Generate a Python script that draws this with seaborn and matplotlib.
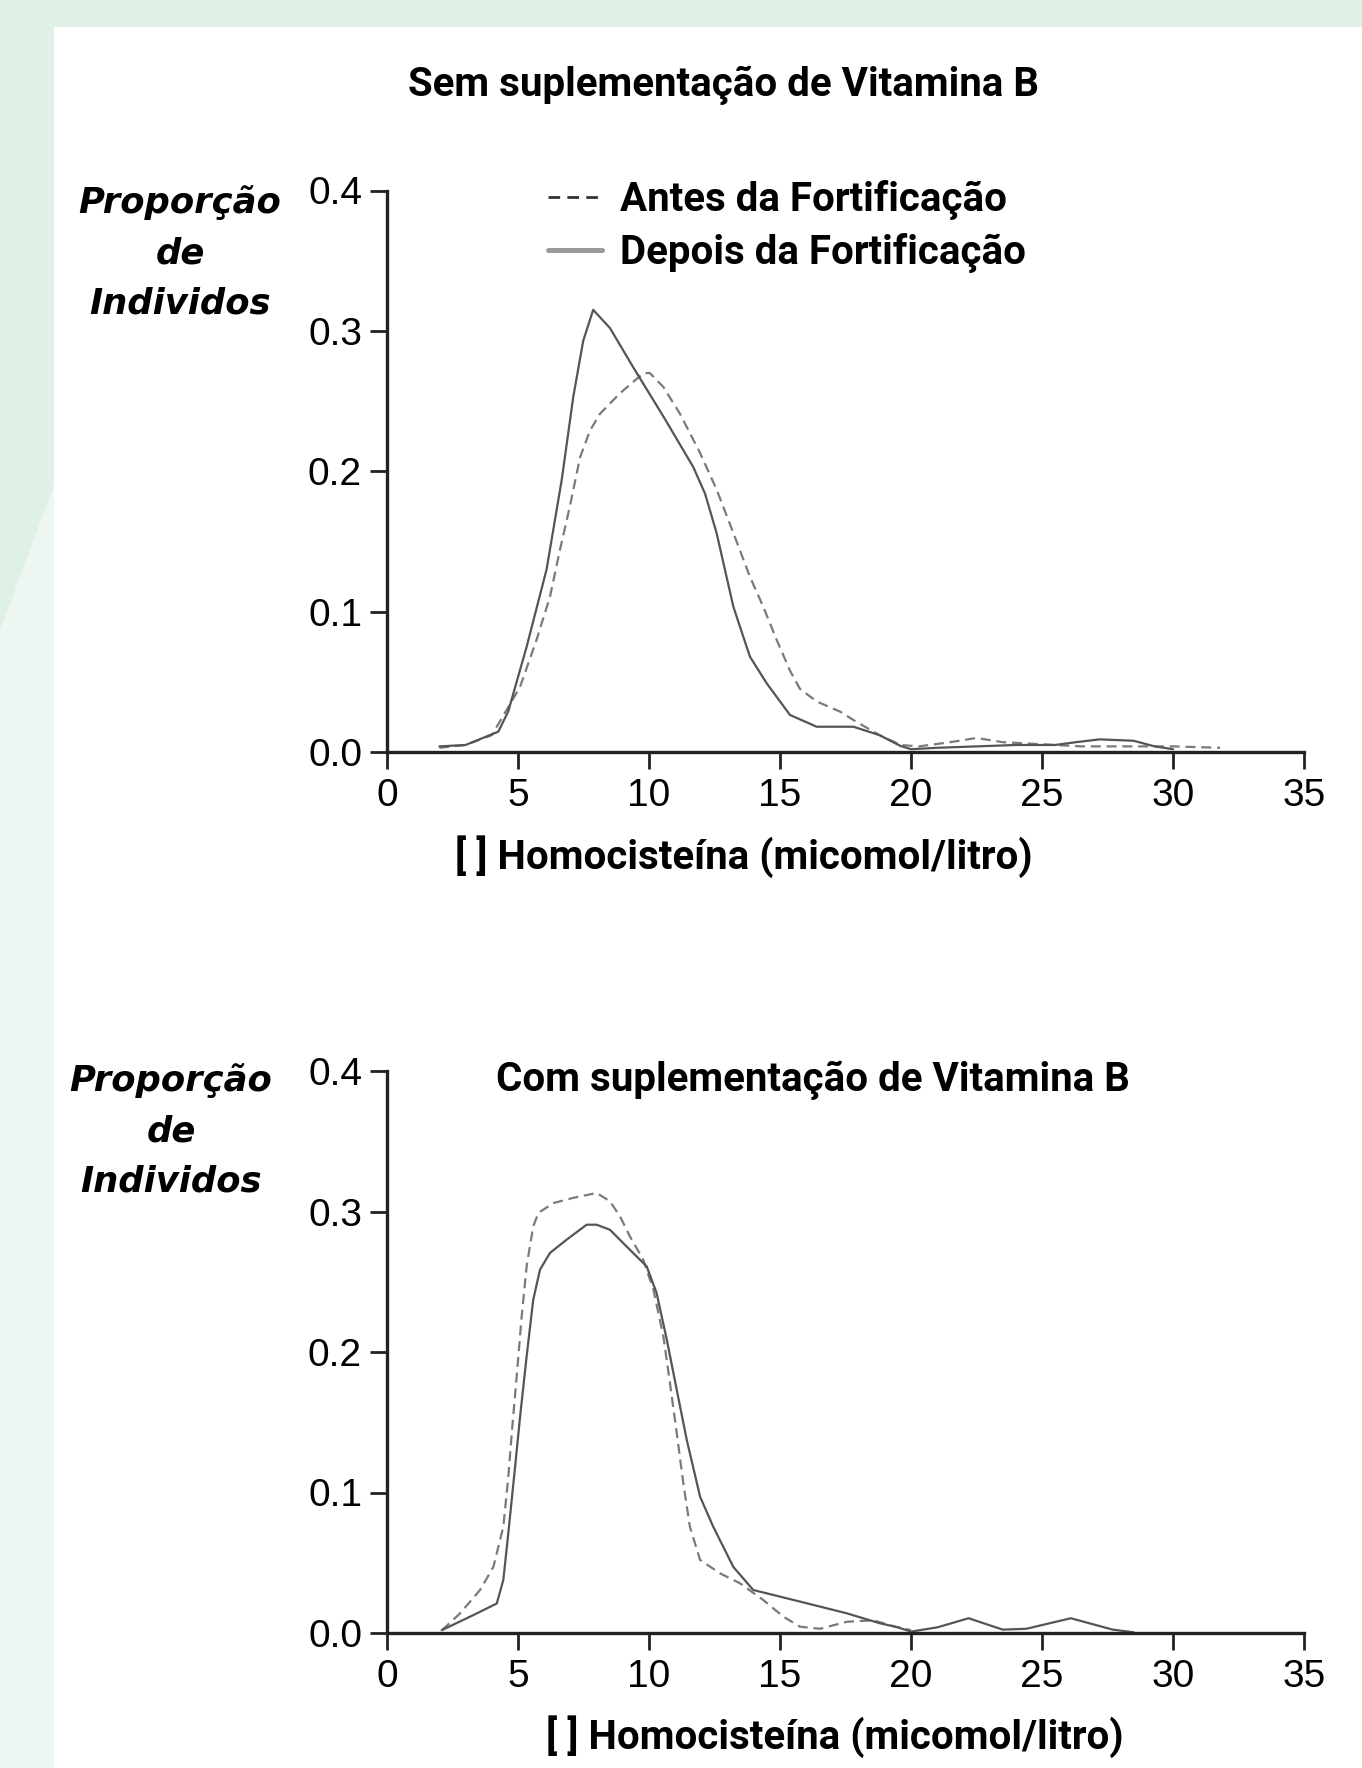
import matplotlib
matplotlib.use("Agg")
import matplotlib.pyplot as plt
import matplotlib.patches as mpatches
from matplotlib.lines import Line2D
from matplotlib import font_manager
import seaborn as sns
import pandas as pd

# ---------------- data ----------------
top_depois_x = [2.0, 3.0, 4.25, 4.63, 5.33, 6.09, 6.67, 7.11, 7.49, 7.87, 8.51, 9.40, 10.55, 11.69, 12.14,
                12.58, 13.22, 13.85, 14.49, 15.38, 16.4, 17.8, 18.8, 19.6, 20.0, 21.0, 22.5, 24.0, 25.5,
                26.3, 27.2, 28.5, 29.3, 30.0]
top_depois_y = [0.004, 0.005, 0.0145, 0.029, 0.075, 0.130, 0.194, 0.253, 0.293, 0.315, 0.302, 0.274, 0.239,
                0.203, 0.184, 0.156, 0.1035, 0.068, 0.049, 0.0264, 0.018, 0.018, 0.012, 0.0043, 0.002,
                0.003, 0.004, 0.005, 0.005, 0.007, 0.009, 0.008, 0.004, 0.002]

top_antes_x = [2.0, 3.0, 4.0, 4.6, 5.08, 5.71, 6.22, 6.6, 6.98, 7.37, 7.75, 8.13, 8.89, 9.78, 10.03, 10.55,
               11.18, 11.95, 12.58, 13.22, 13.85, 14.36, 14.87, 15.38, 15.76, 16.4, 17.3, 17.8, 18.8, 19.6,
               20.3, 21.5, 22.5, 23.5, 24.5, 26.5, 28.0, 30.0, 31.8]
top_antes_y = [0.003, 0.005, 0.012, 0.031, 0.0465, 0.080, 0.1106, 0.144, 0.175, 0.210, 0.229, 0.241, 0.2555,
               0.2698, 0.270, 0.260, 0.241, 0.213, 0.187, 0.156, 0.125, 0.1035, 0.080, 0.058, 0.045, 0.036,
               0.0287, 0.0228, 0.012, 0.005, 0.004, 0.007, 0.010, 0.007, 0.006, 0.004, 0.004, 0.004, 0.003]

bot_depois_x = [2.09, 3.3, 4.19, 4.44, 4.63, 4.89, 5.08, 5.33, 5.58, 5.84, 6.22, 6.86, 7.62, 8.0, 8.51, 9.15,
                9.91, 10.29, 10.68, 11.06, 11.44, 11.95, 12.45, 13.22, 13.98, 15.0, 16.27, 17.55, 18.8, 19.5,
                20.0, 21.0, 22.2, 23.5, 24.4, 26.1, 27.7, 28.5]
bot_depois_y = [0.002, 0.0128, 0.021, 0.0378, 0.071, 0.1185, 0.154, 0.197, 0.237, 0.2586, 0.2705, 0.280,
                0.2906, 0.2906, 0.287, 0.275, 0.261, 0.242, 0.2087, 0.173, 0.1375, 0.097, 0.0757, 0.047,
                0.0306, 0.0259, 0.020, 0.014, 0.007, 0.004, 0.001, 0.004, 0.0105, 0.0024, 0.003, 0.0105,
                0.0024, 0.0005]

bot_antes_x = [2.1, 2.79, 3.55, 4.06, 4.44, 4.63, 4.76, 4.95, 5.14, 5.33, 5.58, 5.78, 6.35, 7.11, 8.0, 8.51,
               8.89, 9.27, 9.78, 10.17, 10.55, 10.8, 11.06, 11.31, 11.56, 11.95, 12.71, 13.47, 14.36, 15.13,
               15.76, 16.53, 17.55, 18.56, 19.3, 20.0]
bot_antes_y = [0.002, 0.014, 0.0306, 0.047, 0.0757, 0.111, 0.142, 0.1826, 0.2253, 0.261, 0.2894, 0.299, 0.306,
               0.3097, 0.3132, 0.3073, 0.2966, 0.2823, 0.2657, 0.2443, 0.211, 0.1779, 0.142, 0.1066, 0.0757,
               0.052, 0.0425, 0.0354, 0.0235, 0.0116, 0.0045, 0.003, 0.008, 0.009, 0.005, 0.002]

x_ticks = [0, 5, 10, 15, 20, 25, 30, 35]
y_ticks = [0.0, 0.1, 0.2, 0.3, 0.4]
y_ticklabels = ["0.0", "0.1", "0.2", "0.3", "0.4"]

title_top = "Sem suplementação de Vitamina B"
title_bot = "Com suplementação de Vitamina B"
xlabel = "[ ] Homocisteína (micomol/litro)"
ylabel = "Proporção\nde\nIndividos"
label_antes = "Antes da Fortificação"
label_depois = "Depois da Fortificação"

# ---------------- style ----------------
sns.set_style("ticks")
avail = {f.name for f in font_manager.fontManager.ttflist}
narrow = "Liberation Sans Narrow" if "Liberation Sans Narrow" in avail else "Roboto"
plt.rcParams["font.family"] = ["Liberation Sans", "DejaVu Sans"]
plt.rcParams["text.color"] = "black"

W, H = 1362, 1768
fig = plt.figure(figsize=(W / 100, H / 100), dpi=100)
fig.patch.set_facecolor("#dff0e6")

# background panels (drawn below the axes)
fig.patches.append(mpatches.Rectangle((54 / W, 0), 1 - 54 / W, 1 - 27 / H, transform=fig.transFigure,
                                      facecolor="white", edgecolor="none", zorder=-10))
fig.patches.append(mpatches.Polygon([(0, 0), (0, 1 - 630 / H), (54 / W, 1 - 485 / H), (54 / W, 0)],
                                    closed=True, transform=fig.transFigure,
                                    facecolor="#eef6f1", edgecolor="none", zorder=-10))

left = 387 / W
width = (1304 - 387) / W
ax_top = fig.add_axes([left, 1 - 752 / H, width, (752 - 190.5) / H])
ax_bot = fig.add_axes([left, 1 - 1633 / H, width, (1633 - 1071) / H])

solid_col = "#555555"
dash_col = "#7a7a7a"
dash_pat = (0, (4.5, 2.6))

for ax, (dx, dy, ax_x, ax_y) in [
    (ax_top, (top_depois_x, top_depois_y, top_antes_x, top_antes_y)),
    (ax_bot, (bot_depois_x, bot_depois_y, bot_antes_x, bot_antes_y)),
]:
    ax.set_facecolor("none")
    df_d = pd.DataFrame({"x": dx, "y": dy})
    df_a = pd.DataFrame({"x": ax_x, "y": ax_y})
    sns.lineplot(data=df_a, x="x", y="y", ax=ax, color=dash_col, linewidth=1.6,
                 linestyle=dash_pat, estimator=None, sort=False)
    sns.lineplot(data=df_d, x="x", y="y", ax=ax, color=solid_col, linewidth=1.6,
                 estimator=None, sort=False)
    ax.set_xlim(0, 35)
    ax.set_ylim(0, 0.4)
    ax.set_xticks(x_ticks)
    ax.set_xticklabels([str(t) for t in x_ticks])
    ax.set_yticks(y_ticks)
    ax.set_yticklabels(y_ticklabels)
    ax.set_xlabel("")
    ax.set_ylabel("")
    for s in ["top", "right"]:
        ax.spines[s].set_visible(False)
    for s in ["left", "bottom"]:
        ax.spines[s].set_color("#222222")
        ax.spines[s].set_linewidth(2.4)
        ax.spines[s].set_capstyle("projecting")
    ax.tick_params(axis="both", direction="out", length=12, width=2.0, color="#222222",
                   labelsize=28, labelcolor="black")
    ax.tick_params(axis="y", pad=6)
    ax.tick_params(axis="x", pad=7)
    ax.margins(0)

# titles / labels as text
tkw = dict(family=[narrow, "DejaVu Sans"], weight="bold", fontsize=29, color="black")
fig.text(723 / W, 1 - 85 / H, title_top, ha="center", va="center", **tkw)
fig.text(813 / W, 1 - 1080 / H, title_bot, ha="center", va="center", **tkw)
fig.text(744 / W, 1 - 857 / H, xlabel, ha="center", va="center", **tkw)
fig.text(835 / W, 1 - 1737 / H, xlabel, ha="center", va="center", **tkw)

ykw = dict(family=["DejaVu Sans"], weight="bold", style="italic", fontsize=25.5, color="black",
           linespacing=1.6, ha="center", va="top", multialignment="center")
fig.text(180 / W, 1 - 185 / H, ylabel, **ykw)
fig.text(171 / W, 1 - 1063 / H, ylabel, **ykw)

# legend
h_antes = Line2D([0], [0], color="#333333", linewidth=2.0, linestyle=(0, (4.2, 2.6)))
h_depois = Line2D([0], [0], color="#9a9a9a", linewidth=3.6)
leg = ax_top.legend([h_antes, h_depois], [label_antes, label_depois],
                    loc="upper left", bbox_to_anchor=(548 / W, 1 - 180 / H),
                    bbox_transform=fig.transFigure, frameon=False, borderpad=0, borderaxespad=0,
                    handlelength=1.35, handletextpad=0.45, labelspacing=0.32, labelcolor="black",
                    prop=font_manager.FontProperties(family=[narrow, "DejaVu Sans"], weight="bold", size=29))

fig.savefig("out.png", dpi=100, facecolor=fig.get_facecolor())
